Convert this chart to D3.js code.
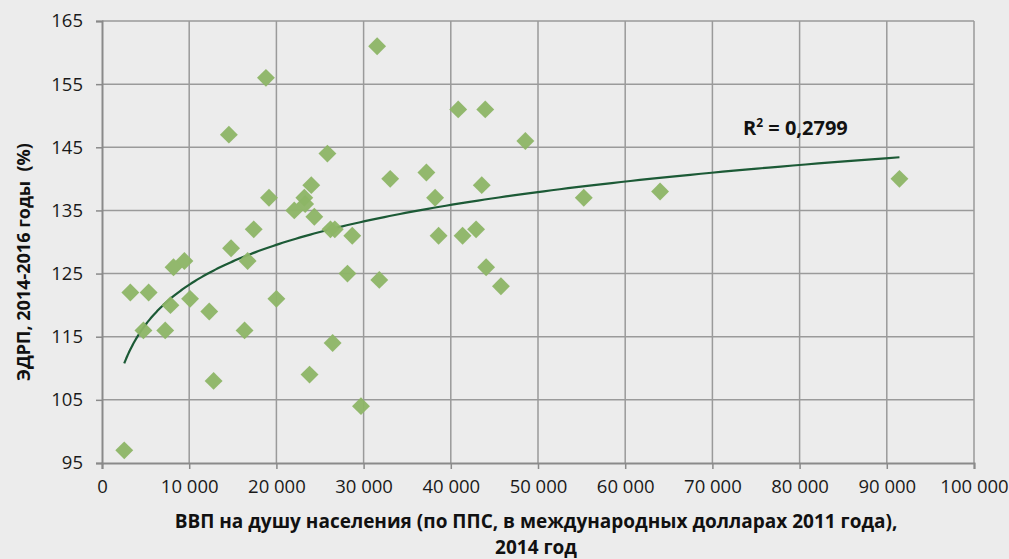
<!DOCTYPE html>
<html>
<head>
<meta charset="utf-8">
<script src="https://cdn.jsdelivr.net/npm/d3@7"></script>
<style>
  html, body { margin: 0; padding: 0; background: #ececec; }
  svg { display: block; font-family: "Open Sans", sans-serif; }
</style>
</head>
<body>
<div id="chart"></div>
<script>
// ВВП на душу населения (ППС, 2011 межд. долл.), 2014
const gdp = [
  18800, 14550, 25850, 24000, 19150, 23200, 23300, 22050, 24350, 26200,
  26700, 17400, 14800, 9450, 8200, 16700, 3250, 5350, 10100, 20000,
  7850, 12300, 4750, 7250, 16350, 26450, 23800, 12800, 2550, 31550,
  40850, 43950, 48550, 37200, 33050, 43550, 55250, 38200, 28700, 38600,
  41350, 42900, 28150, 31800, 44050, 45750, 29700, 64000, 91450
];
// ЭДРП, 2014-2016 (%)
const edrp = [
  156, 147, 144, 139, 137, 137, 136, 135, 134, 132,
  132, 132, 129, 127, 126, 127, 122, 122, 121, 121,
  120, 119, 116, 116, 116, 114, 109, 108, 97, 161,
  151, 151, 146, 141, 140, 139, 137, 137, 131, 131,
  131, 132, 125, 124, 126, 123, 104, 138, 140
];
const xTicks = [0, 10000, 20000, 30000, 40000, 50000, 60000, 70000, 80000, 90000, 100000];
const yTicks = [95, 105, 115, 125, 135, 145, 155, 165];
const r2Label = "0,2799";

const width = 1009, height = 559;
const margin = { top: 21, right: 35, bottom: 96, left: 102 };

const svg = d3.select("#chart").append("svg")
  .attr("width", width)
  .attr("height", height);

svg.append("rect").attr("width", width).attr("height", height).attr("fill", "#ececec");

const x = d3.scaleLinear().domain([0, 100000]).range([margin.left, width - margin.right]);
const y = d3.scaleLinear().domain([95, 165]).range([height - margin.bottom, margin.top]);

const locale = d3.formatLocale({ decimal: ",", thousands: " ", grouping: [3], currency: ["", ""] });
const fmt = locale.format(",d");

// grid
svg.append("g")
  .selectAll("line.v")
  .data(xTicks.slice(1))
  .join("line")
  .attr("x1", d => x(d)).attr("x2", d => x(d))
  .attr("y1", y(165)).attr("y2", y(95))
  .attr("stroke", "#9a9a9a").attr("stroke-width", 1.5);

svg.append("g")
  .selectAll("line.h")
  .data(yTicks.slice(1))
  .join("line")
  .attr("x1", x(0)).attr("x2", x(100000))
  .attr("y1", d => y(d)).attr("y2", d => y(d))
  .attr("stroke", "#9a9a9a").attr("stroke-width", 1.5);

// axes
const xAxis = svg.append("g")
  .attr("transform", `translate(0,${y(95)})`)
  .call(d3.axisBottom(x).tickValues(xTicks).tickFormat(fmt).tickSize(6).tickPadding(11));
const yAxis = svg.append("g")
  .attr("transform", `translate(${x(0)},0)`)
  .call(d3.axisLeft(y).tickValues(yTicks).tickSize(6).tickPadding(13));

[xAxis, yAxis].forEach(a => {
  a.select(".domain").attr("stroke", "#8a8a8a").attr("stroke-width", 2);
  a.selectAll(".tick line").attr("stroke", "#8a8a8a").attr("stroke-width", 1.5);
  a.selectAll(".tick text")
    .attr("fill", "#1a1a1a")
    .style("font-size", "18.5px")
    .style("font-family", "'Open Sans', sans-serif");
});

// logarithmic trend line fitted to the points
const lx = gdp.map(v => Math.log(v));
const mx = d3.mean(lx), my = d3.mean(edrp);
const slope = d3.sum(lx, (v, i) => (v - mx) * (edrp[i] - my)) / d3.sum(lx, v => (v - mx) * (v - mx));
const icpt = my - slope * mx;
const [xmin, xmax] = d3.extent(gdp);
const trendX = d3.range(0, 201).map(i => xmin * Math.pow(xmax / xmin, i / 200));

svg.append("path")
  .datum(trendX)
  .attr("fill", "none")
  .attr("stroke", "#1c5a36")
  .attr("stroke-width", 2.2)
  .attr("d", d3.line().x(d => x(d)).y(d => y(slope * Math.log(d) + icpt)));

// points
svg.append("g")
  .selectAll("path")
  .data(gdp.map((g, i) => [g, edrp[i]]))
  .join("path")
  .attr("transform", d => `translate(${x(d[0])},${y(d[1])}) rotate(45)`)
  .attr("d", d3.symbol().type(d3.symbolSquare).size(160))
  .attr("fill", "#8db566")
  .attr("opacity", 0.95);

// R² label
const r2 = svg.append("text")
  .attr("x", 743).attr("y", 135)
  .attr("fill", "#111")
  .style("font-size", "20px")
  .style("font-weight", "bold");
r2.append("tspan").text("R");
r2.append("tspan").attr("dy", -8).style("font-size", "12px").text("2");
r2.append("tspan").attr("dy", 8).text(" = " + r2Label);

// axis titles (two separate lines)
svg.append("text")
  .attr("x", 536).attr("y", 528)
  .attr("text-anchor", "middle")
  .attr("fill", "#111")
  .style("font-size", "19px")
  .style("font-weight", "bold")
  .text("ВВП на душу населения (по ППС, в международных долларах 2011 года),");
svg.append("text")
  .attr("x", 536).attr("y", 554)
  .attr("text-anchor", "middle")
  .attr("fill", "#111")
  .style("font-size", "19px")
  .style("font-weight", "bold")
  .text("2014 год");

svg.append("text")
  .attr("transform", "translate(30,262) rotate(-90)")
  .attr("text-anchor", "middle")
  .attr("fill", "#111")
  .style("font-size", "18px")
  .style("font-weight", "bold")
  .style("white-space", "pre")
  .text("ЭДРП, 2014-2016 годы  (%)");
</script>
</body>
</html>
